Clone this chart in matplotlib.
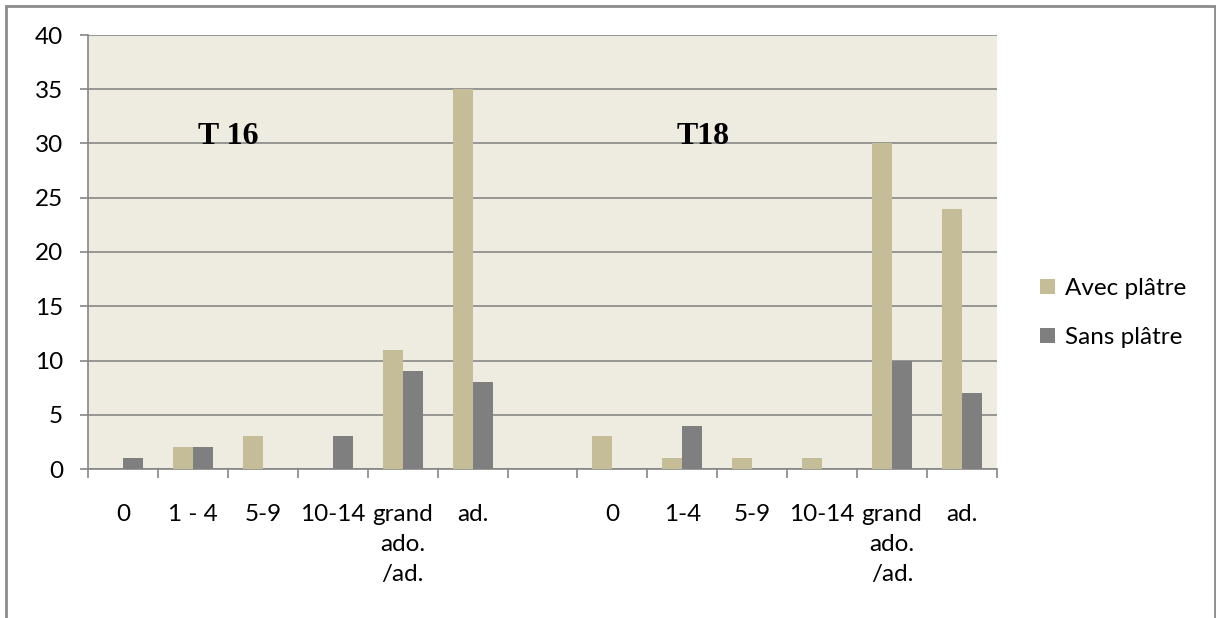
"""Bar chart: Avec / Sans plâtre by age class, T 16 and T18."""

import matplotlib

matplotlib.use("Agg")

import matplotlib.pyplot as plt
import numpy as np
from matplotlib.patches import Rectangle

CATEGORIES = ["0", "1 - 4", "5-9", "10-14", "grand\nado.\n/ad.", "ad.", "",
              "0", "1-4", "5-9", "10-14", "grand\nado.\n/ad.", "ad."]
AVEC_PLATRE = [0, 2, 3, 0, 11, 35, 0, 3, 1, 1, 1, 30, 24]
SANS_PLATRE = [1, 2, 0, 3, 9, 8, 0, 0, 4, 0, 0, 10, 7]
SERIES_NAMES = ["Avec plâtre", "Sans plâtre"]
GROUP_TITLES = [("T 16", 1.5), ("T18", 8.3)]

COLOR_AVEC = "#C4BD97"
COLOR_SANS = "#7F7F7F"
GRID_COLOR = "#868686"
FONT_SIZE = 17.5

plt.rcParams["font.family"] = ["Lato", "DejaVu Sans"]

W, H = 1216, 618
fig = plt.figure(figsize=(W / 100, H / 100), dpi=100)
ax = fig.add_axes([88 / W, 1 - 469 / H, (997 - 88) / W, (469 - 35) / H])
ax.set_facecolor("#EEECE1")

x = np.arange(len(CATEGORIES))
bar_w = 0.286
ax.bar(x - bar_w / 2, AVEC_PLATRE, width=bar_w, color=COLOR_AVEC, label=SERIES_NAMES[0], zorder=3)
ax.bar(x + bar_w / 2, SANS_PLATRE, width=bar_w, color=COLOR_SANS, label=SERIES_NAMES[1], zorder=3)

ax.set_xlim(-0.5, len(CATEGORIES) - 0.5)
ax.set_ylim(0, 40)
ax.set_yticks(np.arange(0, 41, 5))
ax.yaxis.grid(True, color=GRID_COLOR, linewidth=1.2, zorder=1)
ax.set_axisbelow(True)

ax.set_xticks(x)
ax.set_xticklabels(CATEGORIES, linespacing=1.55, va="top")
ax.set_xticks(np.arange(-0.5, len(CATEGORIES), 1.0), minor=True)
ax.tick_params(axis="x", which="major", length=0, pad=25, labelsize=FONT_SIZE)
ax.tick_params(axis="x", which="minor", length=6.5, width=1.2, color=GRID_COLOR, direction="out")
ax.tick_params(axis="y", length=6, width=1.2, color=GRID_COLOR, pad=12, labelsize=FONT_SIZE)

for side in ["top", "right"]:
    ax.spines[side].set_visible(False)
for side in ["left", "bottom"]:
    ax.spines[side].set_color(GRID_COLOR)
    ax.spines[side].set_linewidth(1.2)

for title, xpos in GROUP_TITLES:
    ax.text(xpos, 30, title, ha="center", va="baseline", fontsize=23,
            fontweight="bold", family="Liberation Serif", zorder=4)

fig.legend(loc="center left", bbox_to_anchor=(1018 / W, 1 - 313 / H), frameon=False,
           fontsize=FONT_SIZE, handlelength=0.62, handleheight=0.62, handletextpad=0.4,
           labelspacing=1.15)

fig.patches.append(Rectangle((6 / W, -0.05), (1215 - 6) / W, 1.05 - 6 / H,
                             transform=fig.transFigure, fill=False,
                             edgecolor="#8C8C8C", linewidth=2))

fig.savefig("out.png", dpi=100)
